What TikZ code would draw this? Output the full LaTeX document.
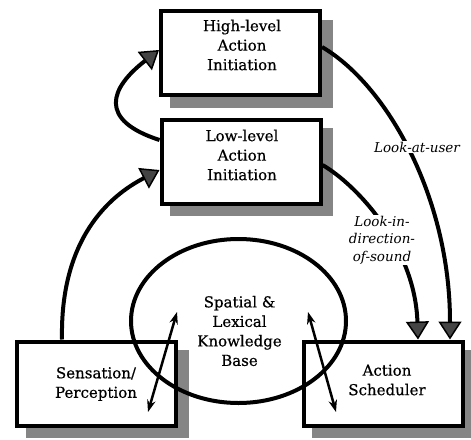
\documentclass[tikz,border=0pt]{standalone}
\usepackage{fontspec}
\setmainfont{DejaVu Serif}
\newfontfamily\heavyserif{DejaVu Serif}[FakeBold=0.6]
\usepackage{tikz}
\usetikzlibrary{shapes.geometric, arrows.meta, calc}
\definecolor{myshadow}{RGB}{133,133,133}
\definecolor{mytip}{RGB}{68,68,68}
\tikzset{
  box/.style={rectangle, draw=black, fill=white, line width=4pt,
    minimum width=159pt, minimum height=84pt, inner sep=0pt,
    preaction={draw=myshadow, fill=myshadow, line width=4pt,
      transform canvas={shift={(10.5pt,-10.5pt)}}}},
  boxtext/.style={align=center, font=\heavyserif\fontsize{15}{19.5}\selectfont, inner sep=0pt},
  kbase/.style={ellipse, draw=black, line width=4pt,
    minimum width=215pt, minimum height=164pt, inner sep=0pt},
  flow/.style={line width=4pt,
    -{Triangle[length=18pt, width=23pt, fill=mytip, line width=1.5pt]}},
  flowlabel/.style={fill=white, align=center, inner sep=1pt,
    font=\fontsize{13.5}{17.5}\selectfont\itshape},
  access/.style={line width=2.5pt,
    {Stealth[length=12pt, width=8.5pt]}-{Stealth[length=12pt, width=8.5pt]}}
}

\begin{document}
\begin{tikzpicture}[x=1pt, y=-1pt]
  \useasboundingbox (0,0) rectangle (471,439);

  % --- Boxes ---
  \node[box] (high) at (240.5,53) {};
  \node[box] (low) at (241,161.5) {};
  \node[box] (sens) at (96.5,383.5) {};
  \node[box] (sched) at (383,383.5) {};

  \node[boxtext] (hightxt) at (242,45) {High-level\\Action\\Initiation};
  \node[boxtext] (lowtxt) at (242,155) {Low-level\\Action\\Initiation};
  \node[boxtext] (senstxt) at (96,384) {Sensation/\\Perception};
  \node[boxtext] (schedtxt) at (387,380) {Action\\Scheduler};

  % --- Knowledge base ---
  \node[kbase] (kb) at (238.5,321) {};
  \node[boxtext] (kbtxt) at (239.5,331) {Spatial \&\\Lexical\\Knowledge\\Base};

  % --- Control flow ---
  \draw[flow] ($(low.west)+(0,-21.5)$) .. controls +(-62,-20) and +(-49,38) .. ($(high.west)+(0,-3)$);
  \draw[flow] ($(sens.north)+(-34.5,0)$) .. controls +(-2,-101) and +(-50,26) .. ($(low.west)+(0,8.5)$);
  \draw[flow] ($(high.east)+(0,-6)$) .. controls +(65,38) and +(0,-142) .. ($(sched.north)+(67,0)$);
  \draw[flow] ($(low.east)+(0,3.5)$) .. controls +(34.5,20) and +(-3,-92) .. ($(sched.north)+(35,0)$);

  \node[flowlabel] (atuser) at (417,147) {Look-at-user};
  \node[flowlabel] (insound) at (382,240) {Look-in-\\direction-\\of-sound};

  % --- Access to the knowledge base ---
  \coordinate (sensin) at (148,412);
  \coordinate (kbleft) at (177,312);
  \coordinate (kbright) at (308,312);
  \coordinate (schedin) at (336,412);
  \draw[access] (sensin) -- (kbleft);
  \draw[access] (kbright) -- (schedin);
\end{tikzpicture}
\end{document}
